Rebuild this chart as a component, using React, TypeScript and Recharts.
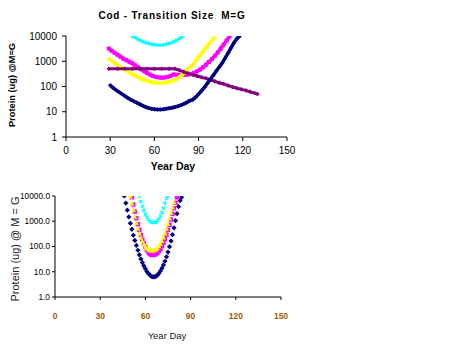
import { ScatterChart, Scatter, XAxis, YAxis } from 'recharts';

const DAY_TICKS = [0, 30, 60, 90, 120, 150];
const PROTEIN_TICKS = [1, 10, 100, 1000, 10000];

// top chart: Cod - transition size M=G
const navyTopDays = [30, 32, 34, 36, 38, 40, 42, 44, 46, 48, 50, 52, 54, 56, 58, 60, 62, 64, 66, 68, 70, 72, 74, 76, 78, 80, 82, 84, 86, 88, 90, 92, 94, 96, 98, 100, 102, 104, 106, 108, 110, 112, 114, 116, 118];
const navyTopValues = [112, 89, 72, 60, 50, 42, 35, 30, 26, 23, 20, 17.4, 15.5, 14.1, 13.2, 12.6, 12.3, 12.3, 12.6, 13.2, 13.8, 14.5, 15.5, 16.6, 18.2, 20.4, 23.4, 27.5, 30, 38, 50, 68, 93, 135, 195, 280, 410, 590, 850, 1320, 2100, 3400, 5400, 7900, 10000];

const magentaTopDays = [29, 31, 33, 35, 37, 39, 41, 43, 45, 47, 49, 51, 53, 55, 57, 59, 61, 63, 65, 67, 69, 71, 73, 75, 77, 79, 81, 83, 85, 87, 89, 91, 93, 95, 97, 99, 101, 103, 105, 107, 109, 111];
const magentaTopValues = [3200, 2600, 2150, 1800, 1500, 1260, 1100, 950, 830, 690, 575, 480, 400, 340, 295, 263, 240, 229, 224, 229, 240, 263, 300, 295, 282, 282, 288, 300, 316, 347, 400, 470, 575, 725, 935, 1230, 1620, 2240, 3160, 4570, 6600, 9550];

const yellowTopDays = [29, 31, 33, 35, 37, 39, 41, 43, 45, 47, 49, 51, 53, 55, 57, 59, 61, 63, 65, 67, 69, 71, 73, 75, 77, 79, 81, 83, 85, 87, 89, 91, 93, 95, 97, 99, 101];
const yellowTopValues = [1320, 1070, 870, 725, 600, 513, 437, 372, 316, 275, 240, 209, 186, 170, 158, 148, 145, 141, 141, 145, 151, 162, 178, 200, 240, 302, 380, 490, 645, 880, 1260, 1740, 2450, 3470, 4900, 6760, 9100];

const cyanTopDays = [45, 47, 49, 51, 53, 55, 57, 59, 61, 63, 65, 67, 69, 71, 73, 75, 77, 79];
const cyanTopValues = [10000, 8700, 7400, 6460, 5750, 5250, 4900, 4570, 4470, 4370, 4370, 4570, 4900, 5250, 5900, 6760, 7940, 9550];

const purpleTopDays = [29, 35, 40, 45, 50, 55, 60, 65, 70, 74, 77, 80, 83, 86, 89, 92, 95, 98, 101, 104, 107, 110, 113, 116, 119, 122, 125, 128, 130];
const purpleTopValues = [510, 510, 510, 510, 510, 510, 510, 510, 510, 500, 440, 380, 330, 290, 260, 230, 210, 185, 160, 140, 125, 110, 95, 85, 77, 70, 62, 55, 50];

// bottom chart
const navyBottomDays = [46, 47, 48, 49, 50, 51, 52, 53, 54, 55, 56, 57, 58, 59, 60, 61, 62, 63, 64, 65, 66, 67, 68, 69, 70, 71, 72, 73, 74, 75, 76, 77, 78, 79, 80, 81, 82, 83, 84];
const navyBottomValues = [10000, 5250, 2750, 1480, 830, 480, 282, 174, 110, 71, 47, 32, 23, 17, 13, 10.2, 8.5, 7.4, 6.6, 6.3, 6.3, 6.6, 7.4, 8.7, 10.7, 13.8, 18.6, 26, 39, 60, 98, 166, 295, 550, 1050, 2000, 3800, 6600, 8900];

const magentaBottomDays = [51, 52, 53, 54, 55, 56, 57, 58, 59, 60, 61, 62, 63, 64, 65, 66, 67, 68, 69, 70, 71, 72, 73, 74, 75, 76, 77, 78, 79, 80, 81];
const magentaBottomValues = [8900, 4570, 2400, 1320, 760, 457, 288, 190, 132, 95, 72, 59, 51, 47, 46, 47, 50, 56, 66, 81, 105, 141, 200, 295, 457, 725, 1170, 1950, 3240, 5370, 8900];

const yellowBottomDays = [50, 51, 52, 53, 54, 55, 56, 57, 58, 59, 60, 61, 62, 63, 64, 65, 66, 67, 68, 69, 70, 71, 72, 73, 74, 75, 76, 77, 78, 79];
const yellowBottomValues = [10000, 5250, 2820, 1550, 890, 537, 339, 229, 166, 126, 102, 89, 79, 74, 72, 72, 74, 79, 89, 105, 129, 170, 234, 339, 513, 813, 1320, 2190, 3630, 5890];

const cyanBottomDays = [56, 57, 58, 59, 60, 61, 62, 63, 64, 65, 66, 67, 68, 69, 70, 71, 72, 73, 74, 75];
const cyanBottomValues = [10000, 6000, 3900, 2700, 1950, 1480, 1170, 1000, 910, 890, 890, 930, 1050, 1260, 1620, 2240, 3310, 5130, 7940, 10000];

const NAVY = '#000080';
const MAGENTA = '#ff00ff';
const YELLOW = '#ffff00';
const CYAN = '#00ffff';
const PURPLE = '#800080';

const toPoints = (days: number[], values: number[]) =>
  days.map((day, i) => ({ day, protein: values[i] }));

const markerShape = (kind: string, color: string, r: number) => (props: any) => {
  const { cx, cy } = props;
  if (cx == null || cy == null) return <g />;
  switch (kind) {
    case 'diamond':
      return <path d={`M${cx},${cy - r}L${cx + r},${cy}L${cx},${cy + r}L${cx - r},${cy}Z`} fill={color} />;
    case 'square':
      return <rect x={cx - r} y={cy - r} width={2 * r} height={2 * r} fill={color} />;
    case 'triangle':
      return <path d={`M${cx},${cy - r}L${cx + r},${cy + r}L${cx - r},${cy + r}Z`} fill={color} />;
    case 'cross':
      return (
        <path
          d={`M${cx - r},${cy - r}L${cx + r},${cy + r}M${cx - r},${cy + r}L${cx + r},${cy - r}`}
          stroke={color}
          strokeWidth={1.2}
        />
      );
    default:
      return (
        <path
          d={`M${cx - r},${cy}L${cx + r},${cy}M${cx},${cy - r}L${cx},${cy + r}`}
          stroke={color}
          strokeWidth={1.5}
        />
      );
  }
};

const axisStroke = { stroke: '#000' };

function TopChart() {
  return (
    <ScatterChart width={300} height={170} margin={{ top: 36, right: 13, left: 0, bottom: 0 }}>
      <XAxis
        type="number"
        dataKey="day"
        domain={[0, 150]}
        ticks={DAY_TICKS}
        interval={0}
        height={33}
        tickSize={4}
        tickMargin={6}
        axisLine={axisStroke}
        tickLine={axisStroke}
        tick={{ fontSize: 10, fill: '#000' }}
      />
      <YAxis
        type="number"
        dataKey="protein"
        scale="log"
        domain={[1, 10000]}
        allowDataOverflow
        ticks={PROTEIN_TICKS}
        interval={0}
        width={66}
        tickSize={4}
        tickMargin={5}
        axisLine={axisStroke}
        tickLine={axisStroke}
        tick={{ fontSize: 10, fill: '#000' }}
      />
      <Scatter
        data={toPoints(magentaTopDays, magentaTopValues)}
        line={{ stroke: MAGENTA, strokeWidth: 3.5 }}
        shape={markerShape('square', MAGENTA, 2)}
        isAnimationActive={false}
      />
      <Scatter
        data={toPoints(yellowTopDays, yellowTopValues)}
        line={{ stroke: YELLOW, strokeWidth: 3.5 }}
        shape={markerShape('triangle', YELLOW, 2)}
        isAnimationActive={false}
      />
      <Scatter
        data={toPoints(cyanTopDays, cyanTopValues)}
        line={{ stroke: CYAN, strokeWidth: 2.5 }}
        shape={markerShape('cross', CYAN, 1.5)}
        isAnimationActive={false}
      />
      <Scatter
        data={toPoints(purpleTopDays, purpleTopValues)}
        line={{ stroke: PURPLE, strokeWidth: 3 }}
        shape={markerShape('plus', PURPLE, 2)}
        isAnimationActive={false}
      />
      <Scatter
        data={toPoints(navyTopDays, navyTopValues)}
        line={{ stroke: NAVY, strokeWidth: 3.5 }}
        shape={markerShape('diamond', NAVY, 2.2)}
        isAnimationActive={false}
      />
    </ScatterChart>
  );
}

function BottomChart() {
  return (
    <ScatterChart width={291} height={176} margin={{ top: 16, right: 10, left: 0, bottom: 0 }}>
      <XAxis
        type="number"
        dataKey="day"
        domain={[0, 150]}
        ticks={DAY_TICKS}
        interval={0}
        height={59}
        tickSize={3}
        tickMargin={13}
        axisLine={axisStroke}
        tickLine={axisStroke}
        tick={{ fontSize: 8.5, fill: '#9a5c00', fontWeight: 'bold' }}
      />
      <YAxis
        type="number"
        dataKey="protein"
        scale="log"
        domain={[1, 10000]}
        allowDataOverflow
        ticks={PROTEIN_TICKS}
        interval={0}
        width={55}
        tickSize={3}
        tickMargin={2}
        axisLine={axisStroke}
        tickLine={axisStroke}
        tickFormatter={(v: number) => v.toFixed(1)}
        tick={{ fontSize: 8.3, fill: '#000' }}
      />
      <Scatter
        data={toPoints(navyBottomDays, navyBottomValues)}
        shape={markerShape('diamond', NAVY, 2.6)}
        isAnimationActive={false}
      />
      <Scatter
        data={toPoints(magentaBottomDays, magentaBottomValues)}
        shape={markerShape('square', MAGENTA, 2.2)}
        isAnimationActive={false}
      />
      <Scatter
        data={toPoints(yellowBottomDays, yellowBottomValues)}
        shape={markerShape('triangle', YELLOW, 2.4)}
        isAnimationActive={false}
      />
      <Scatter
        data={toPoints(cyanBottomDays, cyanBottomValues)}
        shape={markerShape('cross', CYAN, 1.6)}
        isAnimationActive={false}
      />
    </ScatterChart>
  );
}

export default function App() {
  return (
    <div
      style={{
        position: 'absolute',
        left: 0,
        top: 0,
        width: 475,
        height: 356,
        background: '#fff',
        fontFamily: 'Arial, "Liberation Sans", sans-serif',
      }}
    >
      <div style={{ position: 'absolute', left: 0, top: 0 }}>
        <TopChart />
      </div>
      <div style={{ position: 'absolute', left: 0, top: 180 }}>
        <BottomChart />
      </div>
      <svg
        width={475}
        height={356}
        style={{ position: 'absolute', left: 0, top: 0, pointerEvents: 'none' }}
      >
        <text
          x={172}
          y={15}
          textAnchor="middle"
          dominantBaseline="central"
          fontSize={10}
          fontWeight="bold"
          letterSpacing={0.8}
          style={{ whiteSpace: 'pre' }}
        >
          {'Cod - Transition Size  M=G'}
        </text>
        <text x={173} y={166} textAnchor="middle" dominantBaseline="central" fontSize={10.5} fontWeight="bold">
          Year Day
        </text>
        <text
          x={12}
          y={85}
          textAnchor="middle"
          dominantBaseline="central"
          fontSize={9.3}
          fontWeight="bold"
          transform="rotate(-90 12 85)"
        >
          Protein (ug) @M=G
        </text>
        <text x={167} y={335} textAnchor="middle" dominantBaseline="central" fontSize={9.5} fill="#222">
          Year Day
        </text>
        <text
          x={15}
          y={249}
          textAnchor="middle"
          dominantBaseline="central"
          fontSize={11}
          fill="#222"
          transform="rotate(-90 15 249)"
        >
          Protein (ug) @ M = G
        </text>
      </svg>
    </div>
  );
}
